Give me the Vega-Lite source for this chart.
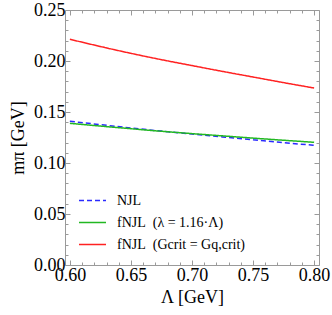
{
  "$schema": "https://vega.github.io/schema/vega-lite/v6.json",
  "autosize": "none",
  "width": 254,
  "height": 255,
  "padding": {"left": 65, "top": 10, "right": 13, "bottom": 50},
  "background": "white",
  "config": {
    "font": "Liberation Serif",
    "view": {"stroke": "#9a9a9a", "strokeWidth": 1},
    "axis": {
      "domain": false,
      "grid": false,
      "tickColor": "#9a9a9a",
      "labelFont": "Liberation Serif",
      "labelFontSize": 18,
      "labelColor": "black",
      "titleFont": "Liberation Serif",
      "titleFontSize": 18,
      "titleFontWeight": "normal",
      "titleColor": "black"
    },
    "legend": {
      "orient": "none",
      "legendX": 13,
      "legendY": 176,
      "title": null,
      "labelFont": "Liberation Serif",
      "labelFontSize": 14,
      "labelColor": "black",
      "symbolType": "stroke",
      "symbolSize": 729,
      "symbolStrokeWidth": 1.6,
      "rowPadding": -8,
      "labelOffset": 10
    }
  },
  "data": {
    "values": [
      {"Lambda": 0.600, "m": 0.1409, "series": "NJL"},
      {"Lambda": 0.625, "m": 0.1376, "series": "NJL"},
      {"Lambda": 0.650, "m": 0.1343, "series": "NJL"},
      {"Lambda": 0.675, "m": 0.1313, "series": "NJL"},
      {"Lambda": 0.700, "m": 0.1285, "series": "NJL"},
      {"Lambda": 0.725, "m": 0.1256, "series": "NJL"},
      {"Lambda": 0.750, "m": 0.1228, "series": "NJL"},
      {"Lambda": 0.775, "m": 0.1200, "series": "NJL"},
      {"Lambda": 0.800, "m": 0.1173, "series": "NJL"},
      {"Lambda": 0.600, "m": 0.1389, "series": "fNJL\u2002(λ = 1.16·Λ)"},
      {"Lambda": 0.625, "m": 0.1362, "series": "fNJL\u2002(λ = 1.16·Λ)"},
      {"Lambda": 0.650, "m": 0.1336, "series": "fNJL\u2002(λ = 1.16·Λ)"},
      {"Lambda": 0.675, "m": 0.1311, "series": "fNJL\u2002(λ = 1.16·Λ)"},
      {"Lambda": 0.700, "m": 0.1288, "series": "fNJL\u2002(λ = 1.16·Λ)"},
      {"Lambda": 0.725, "m": 0.1266, "series": "fNJL\u2002(λ = 1.16·Λ)"},
      {"Lambda": 0.750, "m": 0.1244, "series": "fNJL\u2002(λ = 1.16·Λ)"},
      {"Lambda": 0.775, "m": 0.1223, "series": "fNJL\u2002(λ = 1.16·Λ)"},
      {"Lambda": 0.800, "m": 0.1203, "series": "fNJL\u2002(λ = 1.16·Λ)"},
      {"Lambda": 0.600, "m": 0.2213, "series": "fNJL\u2002(Gcrit = Gq,crit)"},
      {"Lambda": 0.625, "m": 0.2142, "series": "fNJL\u2002(Gcrit = Gq,crit)"},
      {"Lambda": 0.650, "m": 0.2075, "series": "fNJL\u2002(Gcrit = Gq,crit)"},
      {"Lambda": 0.675, "m": 0.2013, "series": "fNJL\u2002(Gcrit = Gq,crit)"},
      {"Lambda": 0.700, "m": 0.1955, "series": "fNJL\u2002(Gcrit = Gq,crit)"},
      {"Lambda": 0.725, "m": 0.1898, "series": "fNJL\u2002(Gcrit = Gq,crit)"},
      {"Lambda": 0.750, "m": 0.1843, "series": "fNJL\u2002(Gcrit = Gq,crit)"},
      {"Lambda": 0.775, "m": 0.1788, "series": "fNJL\u2002(Gcrit = Gq,crit)"},
      {"Lambda": 0.800, "m": 0.1735, "series": "fNJL\u2002(Gcrit = Gq,crit)"}
    ]
  },
  "resolve": {"axis": {"x": "independent", "y": "independent"}},
  "layer": [
    {
      "mark": {"type": "line", "strokeWidth": 1.5, "interpolate": "monotone", "clip": true},
      "encoding": {
        "x": {
          "field": "Lambda", "type": "quantitative",
          "scale": {"domain": [0.596, 0.804], "nice": false, "zero": false},
          "axis": {
            "orient": "bottom",
            "title": "Λ [GeV]",
            "values": [0.60,0.61,0.62,0.63,0.64,0.65,0.66,0.67,0.68,0.69,0.70,0.71,0.72,0.73,0.74,0.75,0.76,0.77,0.78,0.79,0.80],
            "labelExpr": "abs(datum.value*20 - round(datum.value*20)) < 0.001 ? format(datum.value, '.2f') : ''",
            "tickSize": {"condition": {"test": "abs(datum.value*20 - round(datum.value*20)) < 0.001", "value": -5}, "value": -3},
            "labelPadding": 6,
            "titlePadding": 4
          }
        },
        "y": {
          "field": "m", "type": "quantitative",
          "scale": {"domain": [0, 0.25], "nice": false, "zero": false},
          "axis": {
            "orient": "left",
            "title": "mπ [GeV]",
            "values": [0,0.01,0.02,0.03,0.04,0.05,0.06,0.07,0.08,0.09,0.10,0.11,0.12,0.13,0.14,0.15,0.16,0.17,0.18,0.19,0.20,0.21,0.22,0.23,0.24,0.25],
            "labelExpr": "abs(datum.value*20 - round(datum.value*20)) < 0.001 ? format(datum.value, '.2f') : ''",
            "tickSize": {"condition": {"test": "abs(datum.value*20 - round(datum.value*20)) < 0.001", "value": -5}, "value": -3},
            "labelPadding": 5,
            "titlePadding": 6
          }
        },
        "color": {
          "field": "series", "type": "nominal",
          "scale": {
            "domain": ["NJL", "fNJL\u2002(λ = 1.16·Λ)", "fNJL\u2002(Gcrit = Gq,crit)"],
            "range": ["#2a2aff", "#22b822", "#ff2222"]
          }
        },
        "strokeDash": {
          "field": "series", "type": "nominal",
          "scale": {
            "domain": ["NJL", "fNJL\u2002(λ = 1.16·Λ)", "fNJL\u2002(Gcrit = Gq,crit)"],
            "range": [[5, 3], [1, 0], [1, 0]]
          }
        }
      }
    },
    {
      "mark": {"type": "point", "opacity": 0},
      "encoding": {
        "x": {
          "field": "Lambda", "type": "quantitative",
          "axis": {
            "orient": "top", "title": null, "labels": false,
            "values": [0.60,0.61,0.62,0.63,0.64,0.65,0.66,0.67,0.68,0.69,0.70,0.71,0.72,0.73,0.74,0.75,0.76,0.77,0.78,0.79,0.80],
            "tickSize": {"condition": {"test": "abs(datum.value*20 - round(datum.value*20)) < 0.001", "value": -5}, "value": -3}
          }
        },
        "y": {
          "field": "m", "type": "quantitative",
          "axis": {
            "orient": "right", "title": null, "labels": false,
            "values": [0,0.01,0.02,0.03,0.04,0.05,0.06,0.07,0.08,0.09,0.10,0.11,0.12,0.13,0.14,0.15,0.16,0.17,0.18,0.19,0.20,0.21,0.22,0.23,0.24,0.25],
            "tickSize": {"condition": {"test": "abs(datum.value*20 - round(datum.value*20)) < 0.001", "value": -5}, "value": -3}
          }
        }
      }
    }
  ]
}
